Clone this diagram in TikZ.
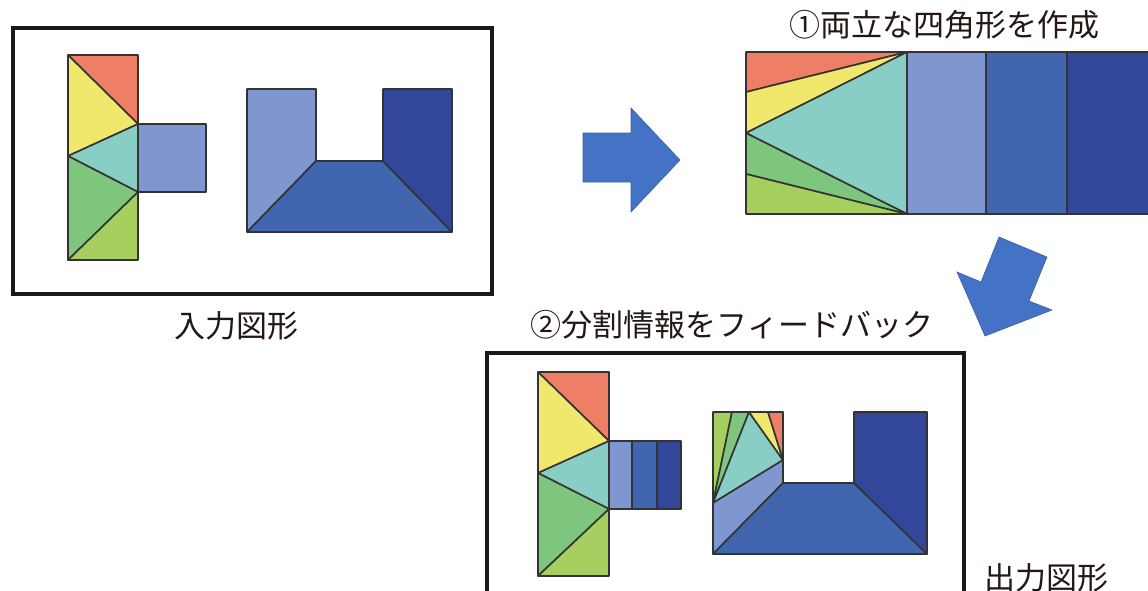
\documentclass[tikz,border=0pt]{standalone}
\usepackage{fontspec}
\setmainfont{Noto Sans CJK JP}
\begin{document}
\begin{tikzpicture}[x=1pt,y=-1pt,
  piece/.style={draw=black!80,line width=1.6pt,line join=round},
  frame/.style={draw=black!90,line width=3.2pt},
  bigarrow/.style={fill=arrowblue,draw=arrowblue!85!black,line width=0.6pt,line join=miter},
  lbl/.style={inner sep=0pt,text=txtgray,font=\fontsize{31}{33}\selectfont}]
\definecolor{cred}{HTML}{EE7E66}
\definecolor{cyel}{HTML}{EFE86C}
\definecolor{ccya}{HTML}{89CEC5}
\definecolor{cgre}{HTML}{7EC57E}
\definecolor{clim}{HTML}{A6CF5F}
\definecolor{cb1}{HTML}{7F96CE}
\definecolor{cb2}{HTML}{4066B0}
\definecolor{cb3}{HTML}{32469A}
\definecolor{arrowblue}{HTML}{4472C4}
\definecolor{txtgray}{HTML}{231815}
\useasboundingbox (0,0) rectangle (1148,590);
% ---------- input frame ----------
\draw[frame] (13,28) rectangle (492,294);
% input T shape
\filldraw[piece,fill=cred] (68,55) -- (138,55) -- (138,124) -- cycle;
\filldraw[piece,fill=cyel] (68,55) -- (138,124) -- (68,156) -- cycle;
\filldraw[piece,fill=ccya] (68,156) -- (138,124) -- (138,192) -- cycle;
\filldraw[piece,fill=cgre] (68,156) -- (138,192) -- (68,260) -- cycle;
\filldraw[piece,fill=clim] (68,260) -- (138,192) -- (138,260) -- cycle;
\filldraw[piece,fill=cb1] (138,124) rectangle (206,192);
% input U shape
\filldraw[piece,fill=cb1] (247,89) -- (316,89) -- (316,161) -- (247,232) -- cycle;
\filldraw[piece,fill=cb2] (316,161) -- (383,161) -- (452,232) -- (247,232) -- cycle;
\filldraw[piece,fill=cb3] (383,89) -- (452,89) -- (452,232) -- (383,161) -- cycle;
\node[lbl] (inlabel) at (236,326) {入力図形};
% ---------- right arrow ----------
\filldraw[bigarrow] (583,133) -- (631,133) -- (631,108) -- (680,160) -- (631,212) -- (631,182) -- (583,182) -- cycle;
% ---------- compatible rectangle ----------
\node[lbl] (step1) at (944,25) {①両立な四角形を作成};
\filldraw[piece,fill=cred] (746,52) -- (907,52) -- (746,92) -- cycle;
\filldraw[piece,fill=cyel] (746,92) -- (907,52) -- (746,133) -- cycle;
\filldraw[piece,fill=ccya] (746,133) -- (907,52) -- (907,214) -- cycle;
\filldraw[piece,fill=cgre] (746,133) -- (907,214) -- (746,174) -- cycle;
\filldraw[piece,fill=clim] (746,174) -- (907,214) -- (746,214) -- cycle;
\filldraw[piece,fill=cb1] (907,52) rectangle (986,214);
\filldraw[piece,fill=cb2] (986,52) rectangle (1067,214);
\filldraw[piece,fill=cb3] (1067,52) rectangle (1150,214);
% ---------- down-left arrow ----------
\filldraw[bigarrow] (999,237) -- (1047,257) -- (1029,301) -- (1052,310) -- (985,336) -- (957,272) -- (981,282) -- cycle;
\node[lbl] (step2) at (732,325) {②分割情報をフィードバック};
% ---------- output frame ----------
\draw[frame] (487,595) -- (487,353) -- (964,353) -- (964,595);
% output T shape
\filldraw[piece,fill=cred] (538,372) -- (609,372) -- (609,441) -- cycle;
\filldraw[piece,fill=cyel] (538,372) -- (609,441) -- (538,473) -- cycle;
\filldraw[piece,fill=ccya] (538,473) -- (609,441) -- (609,509) -- cycle;
\filldraw[piece,fill=cgre] (538,473) -- (609,509) -- (538,576) -- cycle;
\filldraw[piece,fill=clim] (538,576) -- (609,509) -- (609,576) -- cycle;
\filldraw[piece,fill=cb1] (609,441) rectangle (632,509);
\filldraw[piece,fill=cb2] (632,441) rectangle (657,509);
\filldraw[piece,fill=cb3] (657,441) rectangle (681,509);
% output U shape
\filldraw[piece,fill=clim] (713,412) -- (732,412) -- (713,503) -- cycle;
\filldraw[piece,fill=cgre] (732,412) -- (749,412) -- (713,503) -- cycle;
\filldraw[piece,fill=ccya] (749,412) -- (783,460) -- (713,503) -- cycle;
\filldraw[piece,fill=cyel] (749,412) -- (768,412) -- (783,460) -- cycle;
\filldraw[piece,fill=cred] (768,412) -- (783,412) -- (783,460) -- cycle;
\filldraw[piece,fill=cb1] (713,503) -- (783,460) -- (783,483) -- (713,554) -- cycle;
\filldraw[piece,fill=cb2] (783,483) -- (854,483) -- (927,554) -- (713,554) -- cycle;
\filldraw[piece,fill=cb3] (854,412) -- (927,412) -- (927,554) -- (854,483) -- cycle;
\node[lbl] (outlabel) at (1046,578) {出力図形};
\end{tikzpicture}
\end{document}
